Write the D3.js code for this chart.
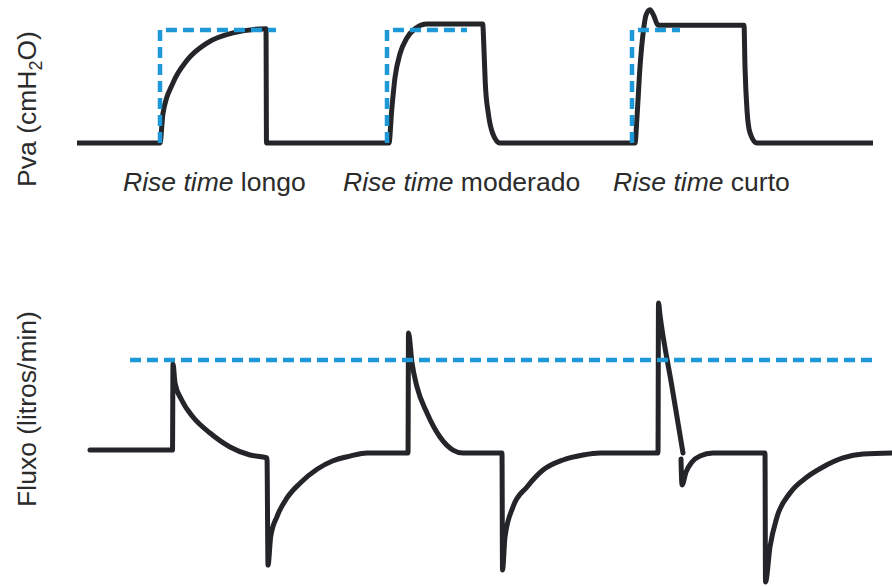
<!DOCTYPE html>
<html><head><meta charset="utf-8">
<script src="https://cdn.jsdelivr.net/npm/d3@7"></script>
<style>body{margin:0;background:#fff}svg{display:block}</style>
</head><body>
<script>
// ---- data (time in s, pressure in cmH2O, flow in L/min) ----
const pressureTrace = [
  [0.00,0],[0.83,0],[0.86,5.0],[0.96,10.1],[1.10,13.9],[1.30,16.8],[1.56,18.5],[1.89,19.2],[1.895,0],
  [3.12,0],[3.147,5.5],[3.18,11],[3.23,15],[3.297,17.6],[3.38,19.2],[3.50,20],[4.057,20],[4.07,15.6],[4.083,10],[4.113,5],[4.157,1.6],[4.23,0],
  [5.58,0],[5.60,4.4],[5.63,12.8],[5.665,19],[5.69,21.5],[5.73,22.4],[5.77,21.3],[5.81,19.8],[6.67,19.8],[6.68,12.8],[6.70,5.5],[6.73,1.7],[6.80,0],[7.96,0]
];
const targetStart = [0.83, 3.10, 5.55];
const targetEnd   = [1.99, 3.90, 6.03];
const targetPressure = 19;

const flowTrace = [
  [0.13,1.9],[0.955,1.9],[0.96,57.4],[0.98,45.2],[1.047,34.2],[1.16,23.2],[1.33,12.9],[1.53,3.9],[1.73,-1.3],[1.90,-3.2],
  [1.91,-72.3],[1.937,-54],[2.00,-41],[2.10,-29],[2.23,-19.5],[2.40,-10.5],[2.56,-5],[2.73,-2],[2.90,0],
  [3.31,0],[3.315,77.4],[3.35,58.1],[3.40,42.6],[3.50,25.8],[3.63,10.3],[3.76,1.9],[3.86,0],[4.25,0],
  [4.255,-75.5],[4.28,-54.2],[4.36,-34.8],[4.50,-21.9],[4.66,-11.0],[4.86,-4.5],[5.06,-1.3],[5.23,0],
  [5.81,0],[5.815,96.8],[5.83,89],[5.95,42.6],[6.06,0],
  null,
  [6.04,-3.9],[6.05,-20.6],[6.09,-12.3],[6.15,-5.8],[6.23,-1.9],[6.36,0],[6.88,0],
  [6.885,-83.2],[6.93,-60.6],[7.00,-41.3],[7.13,-25.8],[7.30,-15.5],[7.46,-9.0],[7.66,-3.2],[7.86,-0.6],[8.15,0]
];
const targetFlow = 60;
const targetFlowSpan = [0.53, 7.95];

const riseLabels = ["longo", "moderado", "curto"];
const riseItalic = "Rise time";
const pressureLabel = ["Pva (cmH", "2", "O)"];
const flowLabel = "Fluxo (litros/min)";

// ---- layout ----
const W = 892, H = 586;
const BLACK = "#232529", BLUE = "#1f98d8", TEXT = "#2b2b2b";
const FONT = "'Liberation Sans', Arial, Helvetica, sans-serif";
const labelX = [123, 343, 613];

const svg = d3.select("body").append("svg").attr("width", W).attr("height", H);
svg.append("rect").attr("width", W).attr("height", H).attr("fill", "#fff");

const x  = d3.scaleLinear().domain([0, 8]).range([77, 877]);
const yP = d3.scaleLinear().domain([0, 20]).range([143, 24]);
const yF = d3.scaleLinear().domain([0, 60]).range([453, 360]);

const smooth = y => d3.line().defined(d => d != null).x(d => x(d[0])).y(d => y(d[1])).curve(d3.curveMonotoneX);
const straight = y => d3.line().x(d => x(d[0])).y(d => y(d[1]));

// pressure trace
svg.append("path").attr("d", smooth(yP)(pressureTrace))
  .attr("fill", "none").attr("stroke", BLACK).attr("stroke-width", 5)
  .attr("stroke-linejoin", "round").attr("stroke-linecap", "butt");

// pressure target (dashed)
targetStart.forEach((s, i) => {
  const pts = [[s, 0], [s, targetPressure], [targetEnd[i], targetPressure]];
  svg.append("path").attr("d", straight(yP)(pts))
    .attr("fill", "none").attr("stroke", BLUE).attr("stroke-width", 4.5)
    .attr("stroke-dasharray", "11,6");
});

// flow trace
svg.append("path").attr("d", smooth(yF)(flowTrace))
  .attr("fill", "none").attr("stroke", BLACK).attr("stroke-width", 5)
  .attr("stroke-linejoin", "round").attr("stroke-linecap", "round");

// flow target (dashed)
svg.append("path").attr("d", straight(yF)(targetFlowSpan.map(t => [t, targetFlow])))
  .attr("fill", "none").attr("stroke", BLUE).attr("stroke-width", 4.5)
  .attr("stroke-dasharray", "11,6");

// rise-time labels
riseLabels.forEach((lab, i) => {
  const t = svg.append("text").attr("x", labelX[i]).attr("y", 191)
    .attr("font-family", FONT).attr("font-size", 26.5).attr("fill", TEXT)
    .style("white-space", "pre");
  t.append("tspan").attr("font-style", "italic").text(riseItalic);
  t.append("tspan").text(" " + lab);
});

// axis titles
const pl = svg.append("text").attr("transform", "translate(36,109) rotate(-90)")
  .attr("text-anchor", "middle").attr("font-family", FONT).attr("font-size", 26.5).attr("fill", TEXT);
pl.append("tspan").text(pressureLabel[0]);
pl.append("tspan").attr("font-size", 18).attr("dy", 6).text(pressureLabel[1]);
pl.append("tspan").attr("dy", -6).text(pressureLabel[2]);

svg.append("text").attr("transform", "translate(36,409) rotate(-90)")
  .attr("text-anchor", "middle").attr("font-family", FONT).attr("font-size", 26.5).attr("fill", TEXT)
  .text(flowLabel);
</script>
</body></html>
